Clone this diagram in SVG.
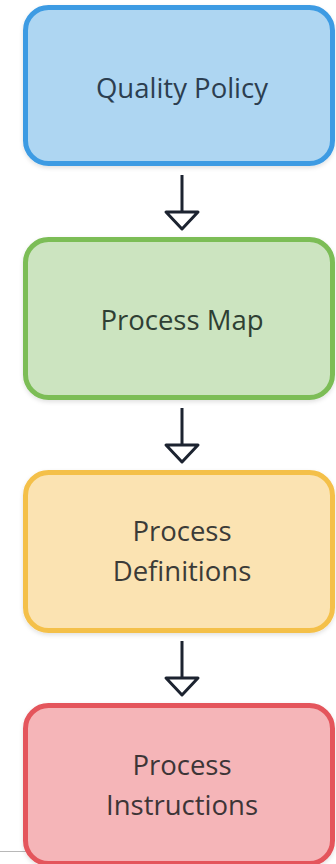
<svg xmlns="http://www.w3.org/2000/svg" width="336" height="864" viewBox="0 0 336 864">
  <defs>
    <style>
      .box { stroke-width: 5; }
      .label { font-family: "Open Sans", "Noto Sans", sans-serif; font-size: 27.5px; font-weight: 500; text-anchor: middle; }
      .edge { stroke: #1c2330; stroke-width: 3; fill: none; }
      .head { stroke: #1c2330; stroke-width: 3; fill: #ffffff; stroke-linejoin: round; }
    </style>
    <filter id="soft" x="-10%" y="-10%" width="120%" height="130%">
      <feDropShadow dx="0" dy="2" stdDeviation="2" flood-color="#000000" flood-opacity="0.12"/>
    </filter>
  </defs>
  <rect width="336" height="864" fill="#ffffff"/>
  <line x1="0" y1="851.5" x2="26" y2="851.5" stroke="#b8b8b8" stroke-width="1"/>

  <g id="quality-policy">
    <rect class="box" x="25.5" y="7.5" width="307" height="156" rx="23" fill="#aed6f2" stroke="#3d9be3" filter="url(#soft)"/>
    <text class="label" x="182" y="98" fill="#2c3e50">Quality Policy</text>
  </g>

  <g id="process-map">
    <rect class="box" x="25.5" y="239.5" width="307" height="158" rx="23" fill="#cce4c0" stroke="#7bbd57" filter="url(#soft)"/>
    <text class="label" x="182" y="330" fill="#2f3f34">Process Map</text>
  </g>

  <g id="process-definitions">
    <rect class="box" x="25.5" y="472.5" width="307" height="158" rx="23" fill="#fbe3b2" stroke="#f4c04a" filter="url(#soft)"/>
    <text class="label" x="182" y="541" fill="#3b3b38">Process</text>
    <text class="label" x="182" y="581" fill="#3b3b38">Definitions</text>
  </g>

  <g id="process-instructions">
    <rect class="box" x="25.5" y="705.5" width="307" height="158" rx="23" fill="#f5b5b8" stroke="#e4555b" filter="url(#soft)"/>
    <text class="label" x="182" y="775" fill="#3d3537">Process</text>
    <text class="label" x="182" y="815" fill="#3d3537">Instructions</text>
  </g>

  <g id="connectors">
    <line class="edge" x1="182" y1="175" x2="182" y2="212"/>
    <polygon class="head" points="166,212 198,212 182,229"/>
    <line class="edge" x1="182" y1="408" x2="182" y2="445"/>
    <polygon class="head" points="166,445 198,445 182,462"/>
    <line class="edge" x1="182" y1="641" x2="182" y2="678"/>
    <polygon class="head" points="166,678 198,678 182,695"/>
  </g>
</svg>
